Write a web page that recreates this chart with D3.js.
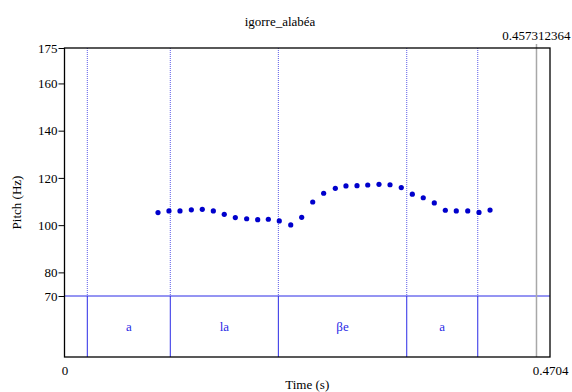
<!DOCTYPE html>
<html>
<head>
<meta charset="utf-8">
<script src="https://cdn.jsdelivr.net/npm/d3@7"></script>
<style>
  html, body { margin: 0; padding: 0; background: #fff; }
  svg text { font-family: "Liberation Serif", "Times New Roman", serif; }
</style>
</head>
<body>
<svg id="chart" width="572" height="392"></svg>
<script>
// Pitch track (s, Hz)
const times = [0.0906, 0.1012, 0.1119, 0.1229, 0.1335, 0.1442, 0.1548, 0.1655, 0.1765, 0.1872,
  0.1975, 0.2081, 0.2192, 0.2298, 0.2405, 0.2511, 0.2624, 0.2727, 0.2834, 0.2938,
  0.3047, 0.3154, 0.3263, 0.3370, 0.3476, 0.3583, 0.3690, 0.3796, 0.3907, 0.4016, 0.4123];
const pitch = [105.3, 106.0, 106.0, 106.5, 106.7, 106.0, 104.6, 103.2, 102.7, 102.3,
  102.5, 101.8, 100.1, 103.3, 109.8, 113.5, 115.6, 116.6, 116.7, 117.0,
  117.3, 117.1, 115.9, 113.1, 111.6, 109.4, 106.3, 106.0, 106.0, 105.4, 106.4];

// Segment tier: boundaries and interval labels
const boundaries = [0.0221, 0.1025, 0.2072, 0.3316, 0.4004];
const segLabels = ["a", "la", "βe", "a"];

const yTicks = [70, 80, 100, 120, 140, 160, 175];
const title = "igorre_alabéa";
const tEnd = 0.4704;
const cursorTime = 0.457312364;

const svg = d3.select("#chart");
const plotL = 64.5, plotR = 550, plotT = 48, tierT = 296, plotB = 357;

const x = d3.scaleLinear().domain([0, tEnd]).range([plotL, plotR]);
const y = d3.scaleLinear().domain([70, 175]).range([tierT, plotT]);

const blue = "#2a2ae6";

// Title
svg.append("text").attr("x", 280).attr("y", 26).attr("text-anchor", "middle")
  .attr("font-size", 13).text(title);

// Dotted boundary lines through the pitch area
svg.append("g").selectAll("line").data(boundaries).join("line")
  .attr("x1", d => x(d)).attr("x2", d => x(d))
  .attr("y1", plotT).attr("y2", tierT)
  .attr("stroke", "#5a5ae8").attr("stroke-width", 1).attr("stroke-dasharray", "1,1");

// Solid boundary lines inside the tier
svg.append("g").selectAll("line").data(boundaries).join("line")
  .attr("x1", d => x(d)).attr("x2", d => x(d))
  .attr("y1", tierT).attr("y2", plotB)
  .attr("stroke", blue).attr("stroke-width", 1);

// Tier top line
svg.append("line").attr("x1", plotL).attr("x2", plotR)
  .attr("y1", tierT).attr("y2", tierT)
  .attr("stroke", blue).attr("stroke-width", 1);

// Interval labels
const mids = segLabels.map((s, i) => ({ s, t: (boundaries[i] + boundaries[i + 1]) / 2 }));
svg.append("g").selectAll("text").data(mids).join("text")
  .attr("x", d => x(d.t)).attr("y", (tierT + plotB) / 2 + 4)
  .attr("text-anchor", "middle").attr("font-size", 13).attr("fill", blue)
  .text(d => d.s);

// Cursor line
svg.append("line").attr("x1", x(cursorTime)).attr("x2", x(cursorTime))
  .attr("y1", plotT - 4).attr("y2", plotB)
  .attr("stroke", "#a8a8a8").attr("stroke-width", 1.5);
svg.append("text").attr("x", x(cursorTime)).attr("y", 40).attr("text-anchor", "middle")
  .attr("font-size", 13).text(cursorTime);

// Frame
svg.append("rect").attr("x", plotL).attr("y", plotT)
  .attr("width", plotR - plotL).attr("height", plotB - plotT)
  .attr("fill", "none").attr("stroke", "#000").attr("stroke-width", 1.3);

// Pitch points
svg.append("g").selectAll("circle").data(times.map((t, i) => [t, pitch[i]])).join("circle")
  .attr("cx", d => x(d[0])).attr("cy", d => y(d[1])).attr("r", 2.6)
  .attr("fill", "#0000cc");

// Y axis
const yAxis = d3.axisLeft(y).tickValues(yTicks).tickSize(6).tickPadding(1)
  .tickFormat(d3.format("d"));
const gy = svg.append("g").attr("transform", `translate(${plotL},0)`).call(yAxis);
gy.select(".domain").remove();
gy.attr("font-family", "Liberation Serif").attr("font-size", 13);
gy.selectAll("text").attr("fill", "#000");
gy.selectAll("line").attr("stroke", "#000");

// X axis end labels
const xAxis = d3.axisBottom(x).tickValues([0, tEnd]).tickSize(0).tickPadding(9)
  .tickFormat(d => d === 0 ? "0" : String(tEnd));
const gx = svg.append("g").attr("transform", `translate(0,${plotB})`).call(xAxis);
gx.select(".domain").remove();
gx.attr("font-family", "Liberation Serif").attr("font-size", 13);
gx.selectAll("text").attr("fill", "#000");

// Axis titles
svg.append("text").attr("x", (plotL + plotR) / 2).attr("y", 389).attr("text-anchor", "middle")
  .attr("font-size", 13).text("Time (s)");
svg.append("text").attr("transform", `translate(21,${(plotT + plotB) / 2}) rotate(-90)`)
  .attr("text-anchor", "middle").attr("font-size", 13).text("Pitch (Hz)");
</script>
</body>
</html>
